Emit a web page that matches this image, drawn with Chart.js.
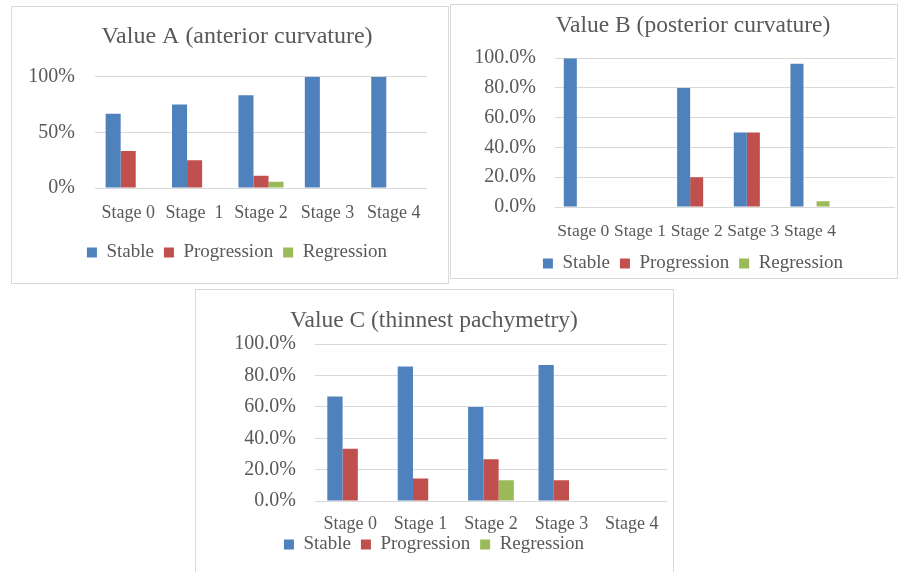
<!DOCTYPE html>
<html>
<head>
<meta charset="utf-8">
<script src="https://cdn.jsdelivr.net/npm/chart.js@4.4.1/dist/chart.umd.min.js"></script>
<style>
  html, body { margin: 0; padding: 0; background: #fff; width: 901px; height: 572px; overflow: hidden; }
  .box { position: absolute; box-sizing: border-box; border: 1px solid #d9d9d9; background: #fff; overflow: hidden; }
  .box canvas { display: block; }
</style>
</head>
<body>
<div class="box" style="left:11px;top:6px;width:438px;height:278px"><canvas id="chartA" width="441" height="276"></canvas></div>
<div class="box" style="left:450px;top:4px;width:448px;height:275px"><canvas id="chartB" width="475" height="280"></canvas></div>
<div class="box" style="left:195px;top:289px;width:479px;height:290px"><canvas id="chartC" width="477" height="282"></canvas></div>
<script>
// Value A (anterior curvature)
const stagesA = ['Stage 0', 'Stage  1', 'Stage 2', 'Stage 3', 'Stage 4'];
const stableA = [66.7, 75.0, 83.3, 100, 100];
const progressionA = [33.3, 25.0, 11.1, 0, 0];
const regressionA = [0, 0, 5.6, 0, 0];

// Value B (posterior curvature) - last empty category as in the original sheet
const stagesB = ['Stage 0', 'Stage 1', 'Stage 2', 'Satge 3', 'Stage 4', ''];
const stableB = [100, 0, 80.0, 50.0, 96.2, null];
const progressionB = [0, 0, 20.0, 50.0, 0, null];
const regressionB = [0, 0, 0, 0, 3.8, null];

// Value C (thinnest pachymetry)
const stagesC = ['Stage 0', 'Stage 1', 'Stage 2', 'Stage 3', 'Stage 4'];
const stableC = [66.7, 85.7, 60.0, 86.7, 0];
const progressionC = [33.3, 14.3, 26.7, 13.3, 0];
const regressionC = [0, 0, 13.3, 0, 0];

const seriesNames = ['Stable', 'Progression', 'Regression'];
const seriesColors = ['#4f81bd', '#c0504d', '#9bbb59'];

const FONT = "'Liberation Serif', 'Times New Roman', serif";
const TEXT = '#595959';

function makeChart(id, o) {
    const ctx = document.getElementById(id).getContext('2d');
    return new Chart(ctx, {
        type: 'bar',
        data: {
            labels: o.labels,
            datasets: o.series.map((d, i) => ({
                label: seriesNames[i],
                data: d,
                backgroundColor: seriesColors[i],
                borderWidth: 0,
                barPercentage: 1,
                categoryPercentage: o.catPct
            }))
        },
        options: {
            responsive: false,
            animation: false,
            layout: { padding: o.pad },
            plugins: {
                tooltip: { enabled: false },
                title: {
                    display: true,
                    text: o.title,
                    color: TEXT,
                    font: { family: FONT, size: o.titleSize, weight: 'normal' },
                    padding: o.titlePad
                },
                legend: {
                    position: 'bottom',
                    labels: {
                        color: TEXT,
                        font: { family: FONT, size: 19 },
                        boxWidth: 10,
                        boxHeight: 10,
                        padding: 10
                    }
                }
            },
            scales: {
                x: {
                    grid: { display: false, drawTicks: false },
                    border: { display: false },
                    ticks: {
                        // mirrored so the labels are not clipped by the short axis box
                        mirror: true,
                        color: TEXT,
                        font: { family: FONT, size: o.catSize },
                        padding: o.catPad,
                        maxRotation: 0,
                        autoSkip: false
                    },
                    afterFit: s => { s.height = o.xHeight; }
                },
                y: {
                    min: 0,
                    max: 100,
                    grid: { color: '#d9d9d9', lineWidth: 1, drawTicks: false },
                    border: { display: false },
                    ticks: {
                        stepSize: o.step,
                        color: TEXT,
                        font: { family: FONT, size: 20 },
                        padding: o.tickPad,
                        callback: o.fmt
                    },
                    afterFit: s => { s.width = o.yWidth; }
                },
                // empty spacer on the right, only used to centre title and legend
                spacer: {
                    type: 'linear',
                    position: 'right',
                    display: o.spacer > 0,
                    grid: { display: false },
                    border: { display: false },
                    ticks: { display: false },
                    afterFit: s => { s.width = o.spacer; }
                }
            }
        }
    });
}

makeChart('chartA', {
    labels: stagesA,
    series: [stableA, progressionA, regressionA],
    title: 'Value A (anterior curvature)',
    titleSize: 24,
    titlePad: { top: 15, bottom: 26 },
    pad: { left: 10, right: 1, top: 0, bottom: 11 },
    catPct: 0.68,
    catSize: 18,
    catPad: -36,
    xHeight: 45,
    yWidth: 73,
    spacer: 25,
    tickPad: 20,
    step: 50,
    fmt: v => v + '%'
});

makeChart('chartB', {
    labels: stagesB,
    series: [stableB, progressionB, regressionB],
    title: 'Value B (posterior curvature)',
    titleSize: 23.5,
    titlePad: { top: 7, bottom: 18 },
    pad: { left: 10, right: 1, top: 0, bottom: 2 },
    catPct: 0.69,
    catSize: 17.5,
    catPad: -35,
    xHeight: 37,
    yWidth: 94,
    spacer: 30,
    tickPad: 19,
    step: 20,
    fmt: v => v.toFixed(1) + '%'
});

makeChart('chartC', {
    labels: stagesC,
    series: [stableC, progressionC, regressionC],
    title: 'Value C (thinnest pachymetry)',
    titleSize: 23.5,
    titlePad: { top: 17, bottom: 9 },
    pad: { left: 5, right: 6, top: 0, bottom: 8 },
    catPct: 0.65,
    catSize: 18,
    catPad: -34.5,
    xHeight: 24,
    yWidth: 114,
    spacer: 0,
    tickPad: 19,
    step: 20,
    fmt: v => v.toFixed(1) + '%'
});
</script>
</body>
</html>
